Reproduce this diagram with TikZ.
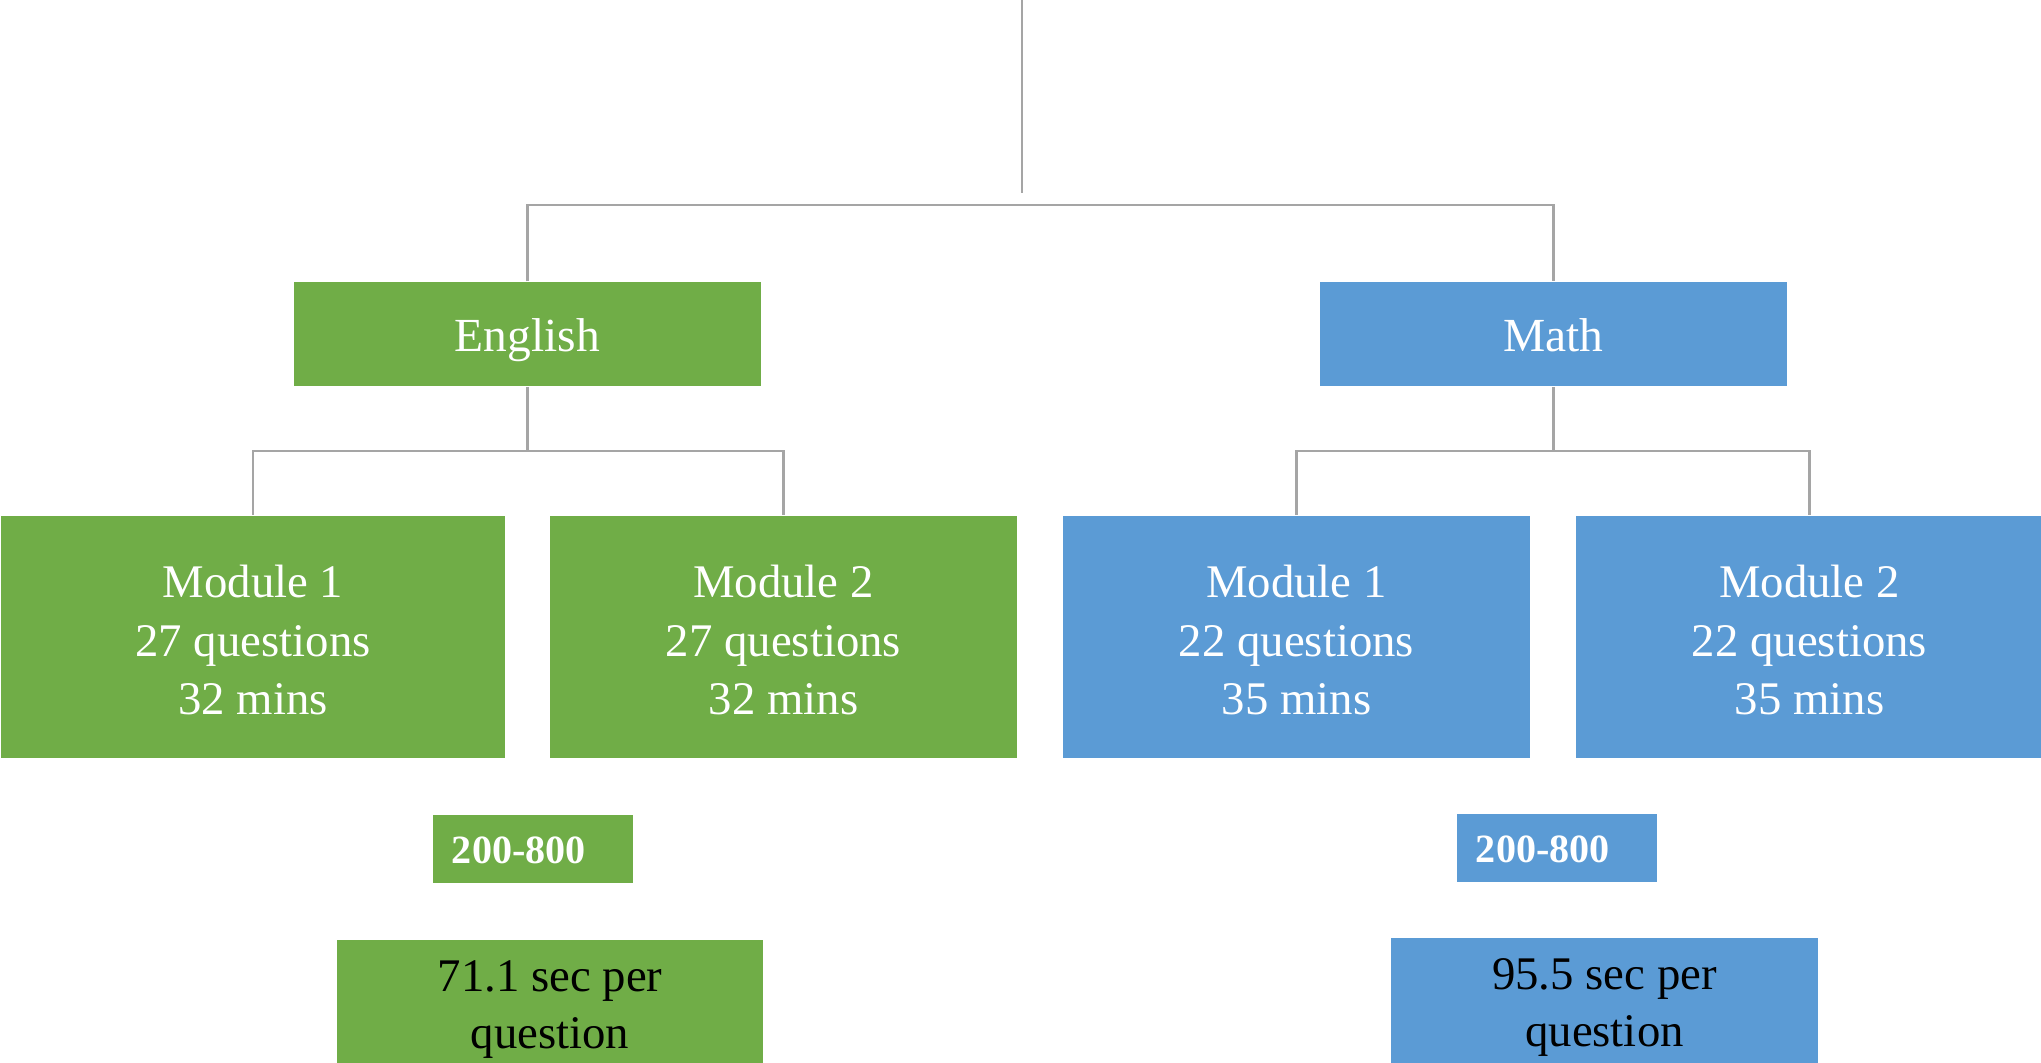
\documentclass[tikz,border=0pt]{standalone}
\usepackage{fontspec}
\setmainfont{Liberation Serif}
\definecolor{englgreen}{HTML}{70AD47}
\definecolor{mathblue}{HTML}{5B9BD5}
\definecolor{linkgray}{HTML}{A5A5A5}

\begin{document}
\begin{tikzpicture}[x=0.01cm,y=-0.01cm,
        subject/.style={fill=#1, text=white, minimum width=4.67cm, minimum height=1.04cm,
            inner sep=0pt, text height=12.7pt, text depth=3pt, font=\fontsize{13.5}{16.5}\selectfont},
        module/.style={fill=#1, text=white, minimum width=4.67cm, minimum height=2.42cm,
            inner sep=0pt, align=center, text height=43.8pt, text depth=0pt,
            font=\fontsize{13.3}{16.5}\selectfont},
        scorebox/.style={fill=#1, text=white, minimum height=0.68cm, text width=1.62cm,
            inner xsep=0.19cm, inner ysep=0pt, text height=8.4pt, text depth=0pt,
            align=left, font=\fontsize{11.4}{13}\selectfont\bfseries},
        pacebox/.style={fill=#1, text=black, minimum width=4.26cm, minimum height=1.28cm,
            inner sep=0pt, align=center, text height=28pt, text depth=2.9pt,
            font=\fontsize{13.3}{16.2}\selectfont},
        link/.style={draw=linkgray, line width=0.6pt}]
                    \useasboundingbox (0,0) rectangle (2041,1062);
                    \clip (0,0) rectangle (2041,1062);

                    % top level
                    \node[subject=englgreen] (english) at (527.5,334) {English};
                    \node[subject=mathblue] (math) at (1553.5,334) {Math};

                    % modules
                    \node[module=englgreen, minimum width=5.04cm] (eng1) at (253,637) {Module 1\\27 questions\\32 mins};
                    \node[module=englgreen] (eng2) at (783.5,637) {Module 2\\27 questions\\32 mins};
                    \node[module=mathblue] (math1) at (1296.5,637) {Module 1\\22 questions\\35 mins};
                    \node[module=mathblue] (math2) at (1809.5,637) {Module 2\\22 questions\\35 mins};

                    % scores and pace
                    \node[scorebox=englgreen] (engscore) at (533,849) {200-800};
                    \node[scorebox=mathblue] (mathscore) at (1557,848) {200-800};
                    \node[pacebox=englgreen] (engpace) at (550,1004) {71.1 sec per\\question};
                    \node[pacebox=mathblue] (mathpace) at (1604.5,1002) {95.5 sec per\\question};

                    % connectors
                    \coordinate (root) at (1022,0);
                    \coordinate (rootend) at (1022,193);
                    \coordinate (topbar) at (1022,205);
                    \coordinate (engbar) at (527.5,451);
                    \coordinate (mathbar) at (1553.5,451);
                    \draw[link] (root) -- (rootend);
                    \draw[link] (english.north) |- (topbar) -| (math.north);
                    \draw[link] (english.south) -- (engbar);
                    \draw[link] (eng1.north) |- (engbar) -| (eng2.north);
                    \draw[link] (math.south) -- (mathbar);
                    \draw[link] (math1.north) |- (mathbar) -| (math2.north);

                \end{tikzpicture}
\end{document}
